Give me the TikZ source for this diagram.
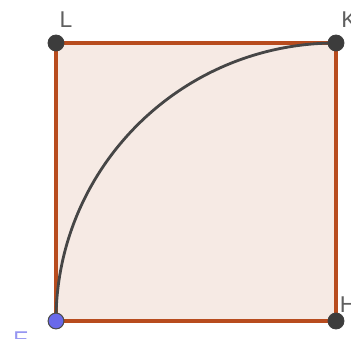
\documentclass[tikz,border=0pt]{standalone}
\usepackage{fontspec}
\setmainfont{Liberation Sans}
\usetikzlibrary{positioning}
\definecolor{sqfill}{RGB}{246,234,228}
\definecolor{sqrule}{RGB}{184,76,30}
\definecolor{arcgray}{RGB}{70,70,70}
\definecolor{ptdark}{RGB}{60,60,60}
\definecolor{ptblue}{RGB}{105,105,235}
\definecolor{lblgray}{RGB}{95,95,95}
\tikzset{
  vertex/.style={circle,draw=black!75,fill=ptdark,line width=0.6pt,minimum size=9pt,inner sep=0pt},
  bluevertex/.style={vertex,fill=ptblue,draw=black!70},
  side/.style={draw=sqrule,line width=2.1pt},
  lbl/.style={text=lblgray,font=\fontsize{13}{13}\selectfont,inner sep=0pt}
}
\begin{document}
\begin{tikzpicture}[x=0.02cm,y=0.02cm]
  \useasboundingbox (0,0) rectangle (351,338);
  \coordinate (e) at (56,17);
  \coordinate (h) at (336,17);
  \coordinate (k) at (336,295);
  \coordinate (l) at (56,295);
  \fill[sqfill] (e) rectangle (k);
  \draw[side] (l) -- (k);
  \draw[side] (k) -- (h);
  \draw[side] (h) -- (e);
  \draw[side] (e) -- (l);
  \draw[arcgray,line width=1.6pt] (e) arc[start angle=180,end angle=90,x radius=280,y radius=278];
  \node[vertex] (L) at (l) {};
  \node[vertex] (K) at (k) {};
  \node[vertex] (H) at (h) {};
  \node[bluevertex] (E) at (e) {};
  \node[lbl] (lL) at (66,318) {L};
  \node[lbl] (lK) at (349,318) {K};
  \node[lbl] (lH) at (348,33) {H};
  \node[lbl,text=ptblue!70] (lE) at (21,-2) {E};
\end{tikzpicture}
\end{document}
